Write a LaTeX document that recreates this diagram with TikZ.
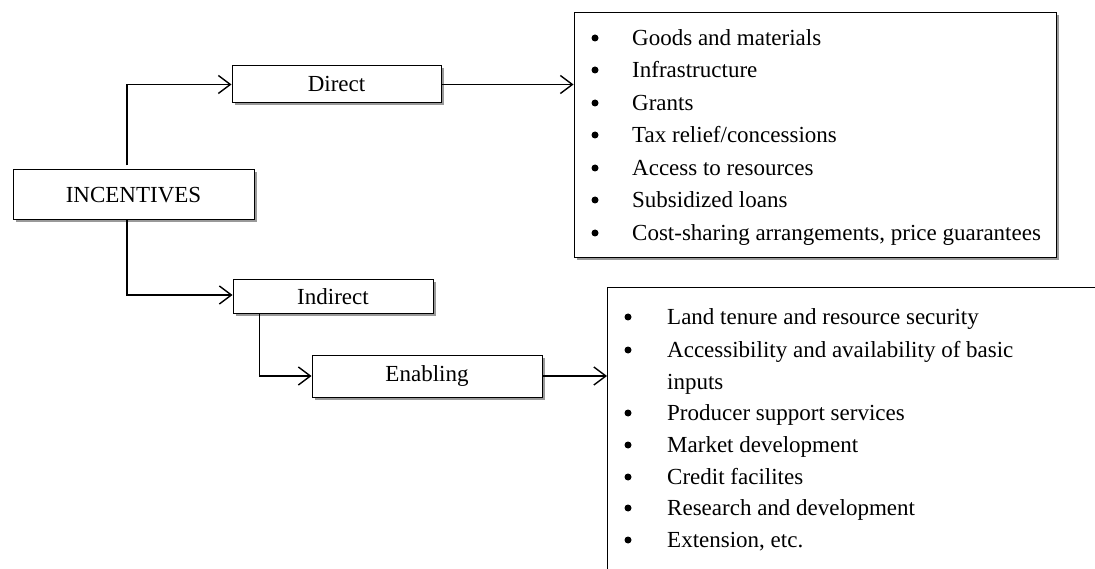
\documentclass[tikz,border=0pt]{standalone}
\usepackage{fontspec}
\setmainfont{Liberation Serif}
\usetikzlibrary{arrows.meta,shadows}

\tikzset{
  box/.style={draw=black, fill=white, line width=1pt, inner sep=0pt,
    drop shadow={shadow xshift=2.5pt, shadow yshift=-2.5pt, fill=gray!80, opacity=1}},
  arr/.style={line width=1.4pt, -{Straight Barb[length=12pt, width=18pt, line width=1.4pt]}},
  item/.style={anchor=base west, inner sep=0pt, align=left},
}

\begin{document}
\begin{tikzpicture}[x=1pt, y=-1pt, font=\fontsize{23}{32}\selectfont]
\useasboundingbox (0,0) rectangle (1095,569);

\node[box, minimum width=241pt, minimum height=50pt] (inc) at (133.5,195) {INCENTIVES};
\node[box, minimum width=209pt, minimum height=37pt] (direct) at (336.5,84.5) {Direct};
\node[box, minimum width=200pt, minimum height=34pt] (indirect) at (333,297) {Indirect};
\node[box, minimum width=230pt, minimum height=42pt] (enabling) at (427,376) {Enabling};

% direct list
\node[box, minimum width=482pt, minimum height=245pt] (directlist) at (815,135.5) {};

\fill (595,38) circle (3.5);
\fill (595,70) circle (3.5);
\fill (595,103) circle (3.5);
\fill (595,135) circle (3.5);
\fill (595,168) circle (3.5);
\fill (595,200) circle (3.5);
\fill (595,233) circle (3.5);

\node[item] (goods) at (632,45.5) {Goods and materials};
\node[item] (infra) at (632,77.5) {Infrastructure};
\node[item] (grants) at (632,110.5) {Grants};
\node[item] (tax) at (632,142.5) {Tax relief/concessions};
\node[item] (access) at (632,175.5) {Access to resources};
\node[item] (loans) at (632,207.5) {Subsidized loans};
\node[item] (costshare) at (632,240.5) {Cost-sharing arrangements, price guarantees};

% enabling list
\coordinate (enablist) at (607,288);
\draw[line width=1pt] (1095,288) -- (enablist) -- (607,569);

\fill (628,317) circle (3.5);
\fill (628,350) circle (3.5);
\fill (628,413) circle (3.5);
\fill (628,445) circle (3.5);
\fill (628,477) circle (3.5);
\fill (628,508) circle (3.5);
\fill (628,540) circle (3.5);

\node[item] (land) at (667,324.5) {Land tenure and resource security};
\node[item] (access2) at (667,357.5) {Accessibility and availability of basic};
\node[item] (inputs) at (667,389.5) {inputs};
\node[item] (producer) at (667,420.5) {Producer support services};
\node[item] (market) at (667,452.5) {Market development};
\node[item] (credit) at (667,484.5) {Credit facilites};
\node[item] (research) at (667,515.5) {Research and development};
\node[item] (extension) at (667,547.5) {Extension, etc.};

% connectors
\draw[arr] ([xshift=-6.5pt, yshift=4pt]inc.north) |- (direct.west);
\draw[arr] ([xshift=-6.5pt]inc.south) |- ([yshift=2pt]indirect.west);
\draw[arr] ([xshift=27pt]indirect.south west) |- (enabling.west);
\draw[arr] (direct.east) -- (direct.east -| directlist.west);
\draw[arr] (enabling.east) -- (enabling.east -| enablist);

\end{tikzpicture}
\end{document}
